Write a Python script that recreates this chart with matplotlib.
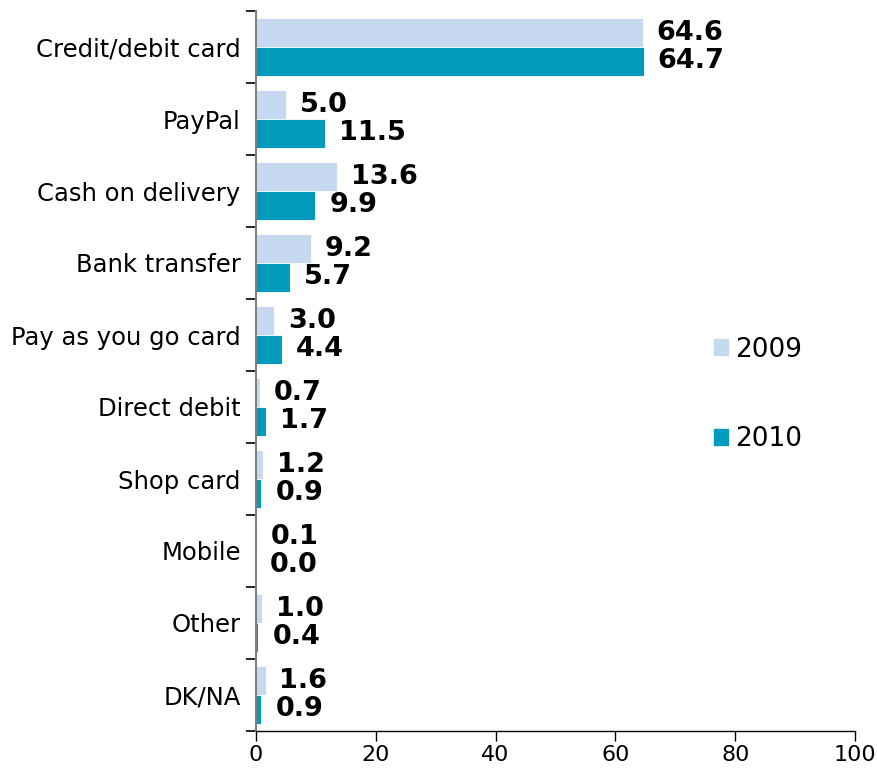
import numpy as np
import matplotlib.pyplot as plt
from matplotlib.patches import Patch

categories = ["Credit/debit card", "PayPal", "Cash on delivery", "Bank transfer",
              "Pay as you go card", "Direct debit", "Shop card", "Mobile",
              "Other", "DK/NA"]
share_2009 = [64.6, 5.0, 13.6, 9.2, 3.0, 0.7, 1.2, 0.1, 1.0, 1.6]
share_2010 = [64.7, 11.5, 9.9, 5.7, 4.4, 1.7, 0.9, 0.0, 0.4, 0.9]
xticks = [0, 20, 40, 60, 80, 100]

c09 = "#c6d9f1"
c10 = "#009bbb"

fig = plt.figure(figsize=(8.77, 7.71), dpi=100)
ax = fig.add_axes([256 / 877, 40 / 771, 599 / 877, 720 / 771])

y = np.arange(len(categories))
h = 0.4
b09 = ax.barh(y - h / 2, share_2009, height=h, color=c09, edgecolor="white", linewidth=0.6)
b10 = ax.barh(y + h / 2, share_2010, height=h, color=c10, edgecolor="white", linewidth=0.6)

for bars, vals in ((b09, share_2009), (b10, share_2010)):
    for bar, v in zip(bars, vals):
        ax.annotate(f"{v:.1f}", (v, bar.get_y() + bar.get_height() / 2),
                    xytext=(10, 0), textcoords="offset points",
                    ha="left", va="center", fontsize=19.5, fontweight="bold")

ax.set_ylim(len(categories) - 0.5, -0.5)
ax.set_xlim(0, 100)
ax.set_yticks(y)
ax.set_yticklabels(categories, fontsize=17.5)
ax.set_yticks(np.arange(len(categories) + 1) - 0.5, minor=True)
ax.tick_params(axis="y", which="major", length=0, pad=11)
ax.tick_params(axis="y", which="minor", length=7, width=1.2, color="black")
ax.set_xticks(xticks)
ax.tick_params(axis="x", length=7, width=1, labelsize=16, pad=3)

for s in ("top", "right"):
    ax.spines[s].set_visible(False)
ax.spines["left"].set_color("#7f7f7f")
ax.spines["left"].set_linewidth(1.5)
ax.spines["bottom"].set_linewidth(1)

handles = [Patch(color=c09), Patch(color=c10)]
fig.legend(handles, ["2009", "2010"], loc="upper left", bbox_to_anchor=(703 / 877, 1 - 326 / 771),
           frameon=False, fontsize=19, labelspacing=2.4, handlelength=0.55,
           handleheight=0.55, handletextpad=0.25, borderaxespad=0)

fig.savefig("out.png", dpi=100)
